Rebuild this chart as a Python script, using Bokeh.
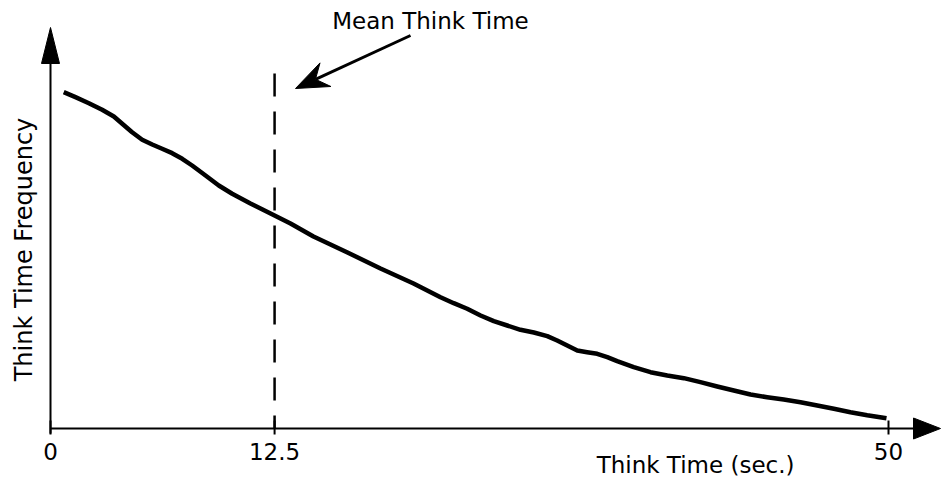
import numpy as np
from bokeh.plotting import figure
from bokeh.models import ColumnDataSource
from bokeh.core.properties import value
from bokeh.embed import file_html
from bokeh.resources import INLINE

# ---- data ----
think_time = [0.79, 1.49, 2.29, 3.08, 3.78, 4.28, 4.87, 5.47, 6.07, 6.66, 7.26, 7.86, 8.45,
              9.25, 10.04, 10.84, 11.93, 13.13, 14.32, 15.69, 17.72, 19.69, 21.66, 23.27,
              24.06, 24.86, 25.66, 26.45, 27.25, 28.04, 28.84, 29.64, 30.23, 30.83, 31.43,
              32.02, 32.62, 33.22, 33.81, 34.80, 35.80, 36.80, 37.79, 38.78, 39.78, 40.77,
              41.77, 42.76, 43.75, 44.75, 45.75, 46.74, 47.73, 48.73, 49.88]
frequency = [84.08, 82.83, 81.33, 79.68, 78.0, 76.18, 74.08, 72.18, 71.0, 69.93, 68.83, 67.43,
             65.75, 63.25, 60.75, 58.68, 56.25, 53.75, 51.25, 48.0, 44.0, 40.0, 36.25, 32.83,
             31.33, 29.93, 28.25, 26.83, 25.75, 24.68, 24.0, 23.08, 22.0, 20.75, 19.5,
             19.08, 18.68, 17.83, 16.83, 15.33, 14.08, 13.25, 12.58, 11.58, 10.5, 9.5,
             8.5, 7.83, 7.25, 6.58, 5.75, 4.93, 4.08, 3.33, 2.58]
mean_think_time = 13.37          # where the dashed "mean" marker stands on the drawn axis
tick_positions = [0, 13.37, 50]
tick_labels = ["0", "12.5", "50"]
x_title = "Think Time (sec.)"
y_title = "Think Time Frequency"
note = "Mean Think Time"

FONT = "DejaVu Sans"
FS = "23px"

# ---- layout: linear mapping of data to the 941x479 canvas ----
W, H = 941, 479
OX, OY = 50, 428          # pixel position of the data origin
PX_PER_X = 16.76
PX_PER_Y = 4.0


def dx(px):
    return px / PX_PER_X


def dy(px):
    return px / PX_PER_Y


def X(px):
    return (px - OX) / PX_PER_X


def Y(py):
    return (OY - py) / PX_PER_Y


p = figure(width=W, height=H, x_range=(X(0), X(W)), y_range=(Y(H), Y(0)),
           output_backend="svg", toolbar_location=None,
           min_border=0, min_border_left=0, min_border_right=0,
           min_border_top=0, min_border_bottom=0)
p.axis.visible = False
p.grid.visible = False
p.outline_line_color = None
p.background_fill_color = "white"
p.border_fill_color = "white"

# ---- x axis with arrow ----
x_tip = X(940)
hl, hw = dx(27), dy(10.5)
p.segment(x0=[0], y0=[0], x1=[x_tip - hl * 0.5], y1=[0], line_color="black", line_width=2)
p.patch(x=[x_tip - hl, x_tip, x_tip - hl], y=[-hw, 0, hw], fill_color="black", line_color="black")

# ticks and tick labels
p.segment(x0=tick_positions, y0=[-dy(6)] * len(tick_positions),
          x1=tick_positions, y1=[dy(8)] * len(tick_positions), line_color="black", line_width=2)
p.text(x=tick_positions, y=[-dy(23)] * len(tick_positions), text=tick_labels,
       text_font=value(FONT), text_font_size=value(FS), text_align="center",
       text_baseline="middle", text_color="black")

# ---- y axis with arrow ----
y_tip = Y(27)
vl, vw = dy(36), dx(9)
p.segment(x0=[0], y0=[-dy(5)], x1=[0], y1=[y_tip - vl * 0.5], line_color="black", line_width=2)
p.patch(x=[-vw, 0, vw], y=[y_tip - vl, y_tip, y_tip - vl], fill_color="black", line_color="black")

# ---- dashed mean line ----
p.segment(x0=[mean_think_time], y0=[Y(73)], x1=[mean_think_time], y1=[0],
          line_color="black", line_width=2.5, line_dash="23 15")

# ---- curve ----
src = ColumnDataSource(dict(x=think_time, y=frequency))
p.line("x", "y", source=src, line_color="black", line_width=4.5, line_join="round")

# ---- annotation arrow (barbed head) ----
tail = np.array([410.0, 35.0])
tip = np.array([295.0, 88.0])
d = (tip - tail) / np.linalg.norm(tip - tail)
n = np.array([-d[1], d[0]])
L, Wd, notch = 33.0, 13.0, 22.0
w1 = tip - L * d + Wd * n
w2 = tip - L * d - Wd * n
nt = tip - notch * d
p.segment(x0=[X(tail[0])], y0=[Y(tail[1])], x1=[X(nt[0])], y1=[Y(nt[1])],
          line_color="black", line_width=3)
p.patch(x=[X(tip[0]), X(w1[0]), X(nt[0]), X(w2[0])],
        y=[Y(tip[1]), Y(w1[1]), Y(nt[1]), Y(w2[1])], fill_color="black", line_color="black")

# ---- texts ----
p.text(x=[X(430)], y=[Y(20)], text=[note], text_font=value(FONT), text_font_size=value(FS),
       text_align="center", text_baseline="middle", text_color="black")
p.text(x=[X(794)], y=[Y(464)], text=[x_title], text_font=value(FONT), text_font_size=value(FS),
       text_align="right", text_baseline="middle", text_color="black")
p.text(x=[X(23)], y=[Y(249)], text=[y_title], angle=np.pi / 2, text_font=value(FONT),
       text_font_size=value("24px"), text_align="center", text_baseline="alphabetic",
       text_color="black")

open("out.html", "w").write(file_html(p, INLINE))
